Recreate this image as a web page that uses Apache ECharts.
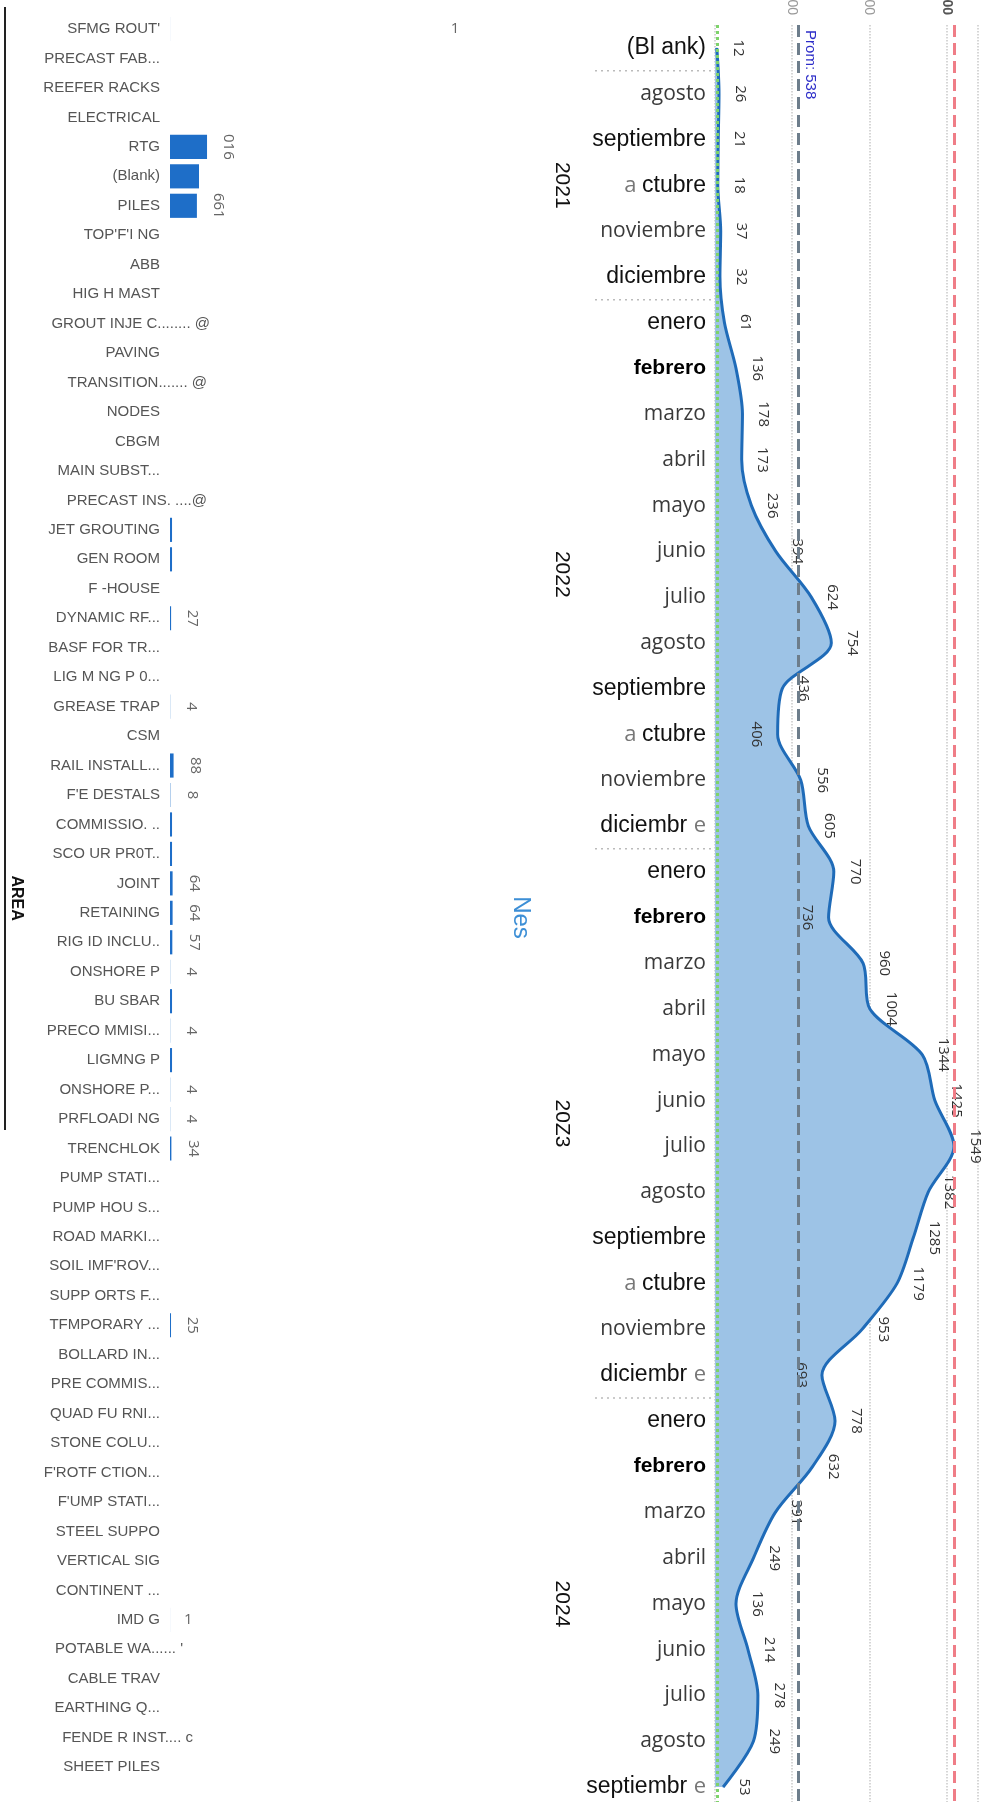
<!DOCTYPE html>
<html>
<head>
<meta charset="utf-8">
<script src="https://cdn.jsdelivr.net/npm/echarts@6/dist/echarts.min.js"></script>
<style>
  html, body { margin: 0; padding: 0; background: #fff; }
  #main { width: 990px; height: 1802px; }
</style>
</head>
<body>
<div id="main"></div>
<script>
// AREA (left bar chart)
const areaNames = [
  "SFMG ROUT'", 'PRECAST FAB...', 'REEFER RACKS', 'ELECTRICAL', 'RTG', '(Blank)', 'PILES', "TOP'F'I NG", 'ABB', 'HIG H MAST',
  'GROUT INJE C........ @', 'PAVING', 'TRANSITION....... @', 'NODES', 'CBGM', 'MAIN SUBST...', 'PRECAST INS. ....@', 'JET GROUTING', 'GEN ROOM', 'F -HOUSE',
  'DYNAMIC RF...', 'BASF FOR TR...', 'LIG M NG P 0...', 'GREASE TRAP', 'CSM', 'RAIL INSTALL...', "F'E DESTALS", 'COMMISSIO. ..', 'SCO UR PR0T..', 'JOINT',
  'RETAINING', 'RIG ID INCLU..', 'ONSHORE P', 'BU SBAR', 'PRECO MMISI...', 'LIGMNG P', 'ONSHORE P...', 'PRFLOADI NG', 'TRENCHLOK', 'PUMP STATI...',
  'PUMP HOU S...', 'ROAD MARKI...', "SOIL IMF'ROV...", 'SUPP ORTS F...', 'TFMPORARY ...', 'BOLLARD IN...', 'PRE COMMIS...', 'QUAD FU RNI...', 'STONE COLU...', "F'ROTF CTION...",
  "F'UMP STATI...", 'STEEL SUPPO', 'VERTICAL SIG', 'CONTINENT ...', 'IMD G', "POTABLE WA...... '", 'CABLE TRAV', 'EARTHING Q...', 'FENDE R INST.... c', 'SHEET PILES'
]
const areaValues = [
  1, null, null, null, 910, 713, 661, null, null, null,
  null, null, null, null, null, null, null, 50, 50, null,
  27, null, null, 4, null, 88, 8, 50, 50, 64,
  64, 57, 4, 50, 4, 50, 4, 4, 34, null,
  null, null, null, null, 25, null, null, null, null, null,
  null, null, null, null, 1, null, null, null, null, null
]
const areaLabels = [
  '1', '', '', '', '016', '', '661', '', '', '',
  '', '', '', '', '', '', '', '', '', '',
  '27', '', '', '4', '', '88', '8', '', '', '64',
  '64', '57', '4', '', '4', '', '4', '4', '34', '',
  '', '', '', '', '25', '', '', '', '', '',
  '', '', '', '', '1', '', '', '', '', ''
]

// Nes (right area chart)
const months = [
  '(Bl ank)',
  'agosto', 'septiembre', 'a ctubre', 'noviembre', 'diciembre',
  'enero', 'febrero', 'marzo', 'abril', 'mayo', 'junio', 'julio', 'agosto', 'septiembre', 'a ctubre', 'noviembre', 'diciembr e',
  'enero', 'febrero', 'marzo', 'abril', 'mayo', 'junio', 'julio', 'agosto', 'septiembre', 'a ctubre', 'noviembre', 'diciembr e',
  'enero', 'febrero', 'marzo', 'abril', 'mayo', 'junio', 'julio', 'agosto', 'septiembr e'
]
const monthValues = [
  12,
  26, 21, 18, 37, 32,
  61, 136, 178, 173, 236, 394, 624, 754, 436, 406, 556, 605,
  770, 736, 960, 1004, 1344, 1425, 1549, 1382, 1285, 1179, 953, 693,
  778, 632, 391, 249, 136, 214, 278, 249, 53
]
const years = ['2021', '2022', '20Z3', '2024']
const yearCounts = [5, 12, 12, 9]

const blackMonths = ['(Bl ank)', 'septiembre', 'diciembre', 'enero']
const leftSide = [15, 19, 29] // labels placed left of the line
// some area names run past the axis edge
const overhang = { 10: 50, 12: 47, 16: 47, 55: 23, 58: 33 }

const chart = echarts.init(document.getElementById('main'))

const valueLabel = {
  show: true,
  rotate: -90,
  align: 'center',
  verticalAlign: 'bottom',
  fontFamily: 'Open Sans',
  fontSize: 15
}

const option = {
  animation: false,
  grid: [
    { left: 170, top: 14.3, width: 407, height: 1767.6, containLabel: false, outerBoundsMode: 'none' },
    { left: 715, top: 25.1, width: 262.3, height: 1784.8, containLabel: false, outerBoundsMode: 'none' }
  ],
  xAxis: [
    { gridIndex: 0, type: 'value', min: 0, max: 10000, show: false },
    {
      gridIndex: 1, type: 'value', position: 'top', min: 0, max: 1700, interval: 500,
      axisLine: { show: false },
      axisTick: { show: false },
      axisLabel: {
        rotate: 90, margin: 10, showMinLabel: false, showMaxLabel: false, color: '#999', fontSize: 14,
        formatter: (v) => v === 1500 ? '{b|' + v + '}' : v,
        rich: { b: { fontWeight: 'bold', color: '#555', fontSize: 14 } }
      },
      splitLine: { lineStyle: { type: 'dotted', color: '#c9c9c9', width: 1.5 } }
    }
  ],
  yAxis: [
    {
      gridIndex: 0, type: 'category', inverse: true, data: areaNames,
      axisLine: { show: false },
      axisTick: { show: false },
      axisLabel: {
        interval: 0, margin: 10, color: '#555', fontSize: 15,
        fontFamily: 'Liberation Sans',
        formatter: (v, i) => overhang[i] ? '{o' + overhang[i] + '|' + v + '}' : v,
        rich: Object.fromEntries(Object.values(overhang).map((d) => [
          'o' + d, { color: '#555', fontSize: 15, fontFamily: 'Liberation Sans', padding: [0, -d, 0, 0] }
        ]))
      },
      name: 'AREA', nameLocation: 'middle', nameRotate: -90, nameGap: 146, nameMoveOverlap: false,
      nameTextStyle: { fontWeight: 'bold', fontSize: 16, color: '#111', fontFamily: 'Liberation Sans' }
    },
    {
      gridIndex: 1, type: 'category', inverse: true, data: months,
      axisLine: { show: false },
      axisTick: { show: false },
      axisLabel: {
        interval: 0, margin: 9, align: 'right',
        formatter: (v) => {
          if (v === 'febrero') return '{b|' + v + '}'
          if (v === 'a ctubre') return '{l|a }{k|ctubre}'
          if (v.endsWith(' e')) return '{k|' + v.slice(0, -1) + '}{l|e}'
          if (blackMonths.includes(v)) return '{k|' + v + '}'
          return '{g|' + v + '}'
        },
        rich: {
          k: { fontFamily: 'Liberation Sans', fontSize: 23, color: '#111' },
          b: { fontFamily: 'Liberation Sans', fontWeight: 'bold', fontSize: 21, color: '#000' },
          g: { fontFamily: 'Open Sans', fontSize: 21, color: '#3a3a3a' },
          l: { fontFamily: 'Open Sans', fontSize: 22, color: '#777' }
        }
      },
      name: 'Nes', nameLocation: 'middle', nameRotate: -90, nameGap: 182,
      nameTextStyle: { fontSize: 24, color: '#3d8fd6', fontFamily: 'Liberation Sans' }
    }
  ],
  series: [
    {
      type: 'bar',
      xAxisIndex: 0, yAxisIndex: 0,
      data: areaValues.map((v, i) => {
        if (v == null) return null
        if (areaLabels[i] === '1') {
          return {
            value: v,
            label: i === 0
              ? { rotate: 0, position: [285, 12], verticalAlign: 'middle' }
              : { rotate: 0, verticalAlign: 'middle', align: 'left' }
          }
        }
        return v
      }),
      barCategoryGap: '18%',
      itemStyle: { color: '#1e6ec8' },
      label: Object.assign({}, valueLabel, {
        position: 'right', distance: 14, color: '#666',
        formatter: (p) => areaLabels[p.dataIndex]
      })
    },
    {
      type: 'line',
      xAxisIndex: 1, yAxisIndex: 1,
      data: monthValues.map((v, i) => leftSide.includes(i)
        ? { value: v, label: { position: 'left', verticalAlign: 'top' } }
        : v),
      smooth: 0.3,
      symbol: 'circle',
      symbolSize: 1,
      itemStyle: { color: '#1f6bb8' },
      lineStyle: { color: '#1f6bb8', width: 3 },
      areaStyle: { color: '#9dc3e6', opacity: 1 },
      label: Object.assign({}, valueLabel, { position: 'right', distance: 13, color: '#333' }),
      markLine: {
        silent: true,
        symbol: 'none',
        data: [
          { type: 'min', label: { show: false }, lineStyle: { color: '#7ed36a', type: 'dotted', width: 3 } },
          {
            type: 'average',
            lineStyle: { color: '#6d7d8b', type: 'dashed', width: 3 },
            label: {
              show: true, position: 'insideStartTop', color: '#2d2dc8', fontSize: 15,
              formatter: (p) => 'Prom: ' + Math.round(p.value)
            }
          },
          { type: 'max', label: { show: false }, lineStyle: { color: '#ef7d87', type: 'dashed', width: 3 } }
        ]
      }
    }
  ]
}

chart.setOption(option)

// year groups on the month axis
const py = (i) => chart.convertToPixel({ yAxisIndex: 1 }, i)
const gfx = [
  { type: 'line', shape: { x1: 5, y1: 7, x2: 5, y2: 1130 }, style: { stroke: '#222', lineWidth: 2 } }
]
let start = 1
years.forEach((yr, k) => {
  const end = start + yearCounts[k] - 1
  const sep = (py(start - 1) + py(start)) / 2
  gfx.push({
    type: 'line', shape: { x1: 595, y1: sep, x2: 712, y2: sep },
    style: { stroke: '#bbb', lineWidth: 1.5, lineDash: [2, 4] }
  })
  gfx.push({
    type: 'text', x: 562, y: (py(start) + py(end)) / 2, rotation: -Math.PI / 2,
    style: { text: yr, fill: '#111', font: '21px Liberation Sans', align: 'center', verticalAlign: 'middle' }
  })
  start = end + 1
})
chart.setOption({ graphic: gfx })

window.addEventListener('resize', function () {
  chart.resize()
})
</script>
</body>
</html>
